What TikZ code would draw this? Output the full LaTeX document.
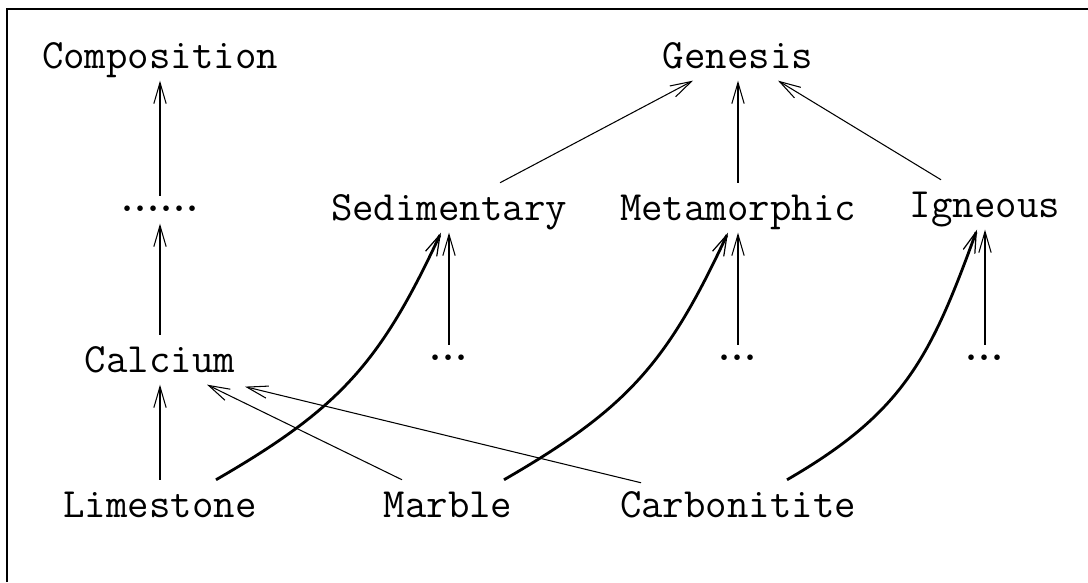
\documentclass[tikz,border=0pt]{standalone}
\usepackage{fontspec}
\usetikzlibrary{arrows.meta,calc}

\begin{document}
\begin{tikzpicture}[x=0.02cm,y=-0.02cm,
    every node/.style={anchor=base,font=\ttfamily\fontsize{23.7}{28}\selectfont},
    term/.style={text height=14pt,text depth=0pt,inner xsep=0pt,inner ysep=7pt},
    gap/.style={font=\rmfamily\bfseries\fontsize{22}{26}\selectfont,text height=1.5pt,text depth=0pt,inner xsep=0pt,inner ysep=7pt},
    link/.style={-{Straight Barb[length=12pt,width=7pt]},line width=0.6pt},
    tree/.style={-{Straight Barb[length=12pt,width=7pt,line width=0.7pt]},line width=1.6pt}]

    \useasboundingbox (0,0) rectangle (1088,582);

    % Frame (cut off at right and bottom)
    \draw[line width=1.1pt] (7,582) -- (7,9) -- (1088,9);

    % Top row
    \node[term] (comp) at (160,68) {Composition};
    \node[term] (gene) at (738,68) {Genesis};

    % Second row
    \node[gap] (dotsC) at (160,211) {.\kern0.5pt.\kern0.5pt.\kern0.5pt.\kern0.5pt.\kern0.5pt.};
    \node[term] (sedi) at (449,220) {Sedimentary};
    \node[term] (meta) at (738,220) {Metamorphic};
    \node[term] (igne) at (985,217) {Igneous};

    % Third row
    \node[term] (calc) at (160,372) {Calcium};
    \node[gap] (dotsS) at (449,360) {.\kern0.5pt.\kern0.5pt.};
    \node[gap] (dotsM) at (738,360) {.\kern0.5pt.\kern0.5pt.};
    \node[gap] (dotsI) at (985,360) {.\kern0.5pt.\kern0.5pt.};

    % Rocks
    \node[term] (lime) at (160,517) {Limestone};
    \node[term] (marb) at (448,517) {Marble};
    \node[term] (carb) at (738,517) {Carbonitite};

    % Composition chain
    \draw[link] (dotsC.north) -- (comp.south);
    \draw[link] (calc.north) -- (dotsC.south);
    \draw[link] (lime.north) -- (calc.south);
    \draw[link] ($(marb.north)+(-46,0)$) -- ($(calc.south)+(47,0)$);
    \draw[link] ($(carb.north)+(-97,3)$) -- ($(calc.south)+(85,2)$);

    % Genesis chain
    \draw[link] (dotsS.north) -- (sedi.south);
    \draw[link] (dotsM.north) -- (meta.south);
    \draw[link] (dotsI.north) -- (igne.south);
    \draw[link] ($(sedi.north)+(51,0)$) -- ($(gene.south)+(-45,0)$);
    \draw[link] (meta.north) -- (gene.south);
    \draw[link] ($(igne.north)+(-44,0)$) -- ($(gene.south)+(40,0)$);

    % Rock to genesis class
    \draw[tree] ($(lime.north)+(56,0)$) to[out=30,in=-115,looseness=1.1] ($(sedi.south)+(-8,0)$);
    \draw[tree] ($(marb.north)+(56,0)$) to[out=30,in=-115,looseness=1.1] ($(meta.south)+(-10,0)$);
    \draw[tree] ($(carb.north)+(49,0)$) to[out=30,in=-110,looseness=1.1] ($(igne.south)+(-8,0)$);

\end{tikzpicture}
\end{document}
